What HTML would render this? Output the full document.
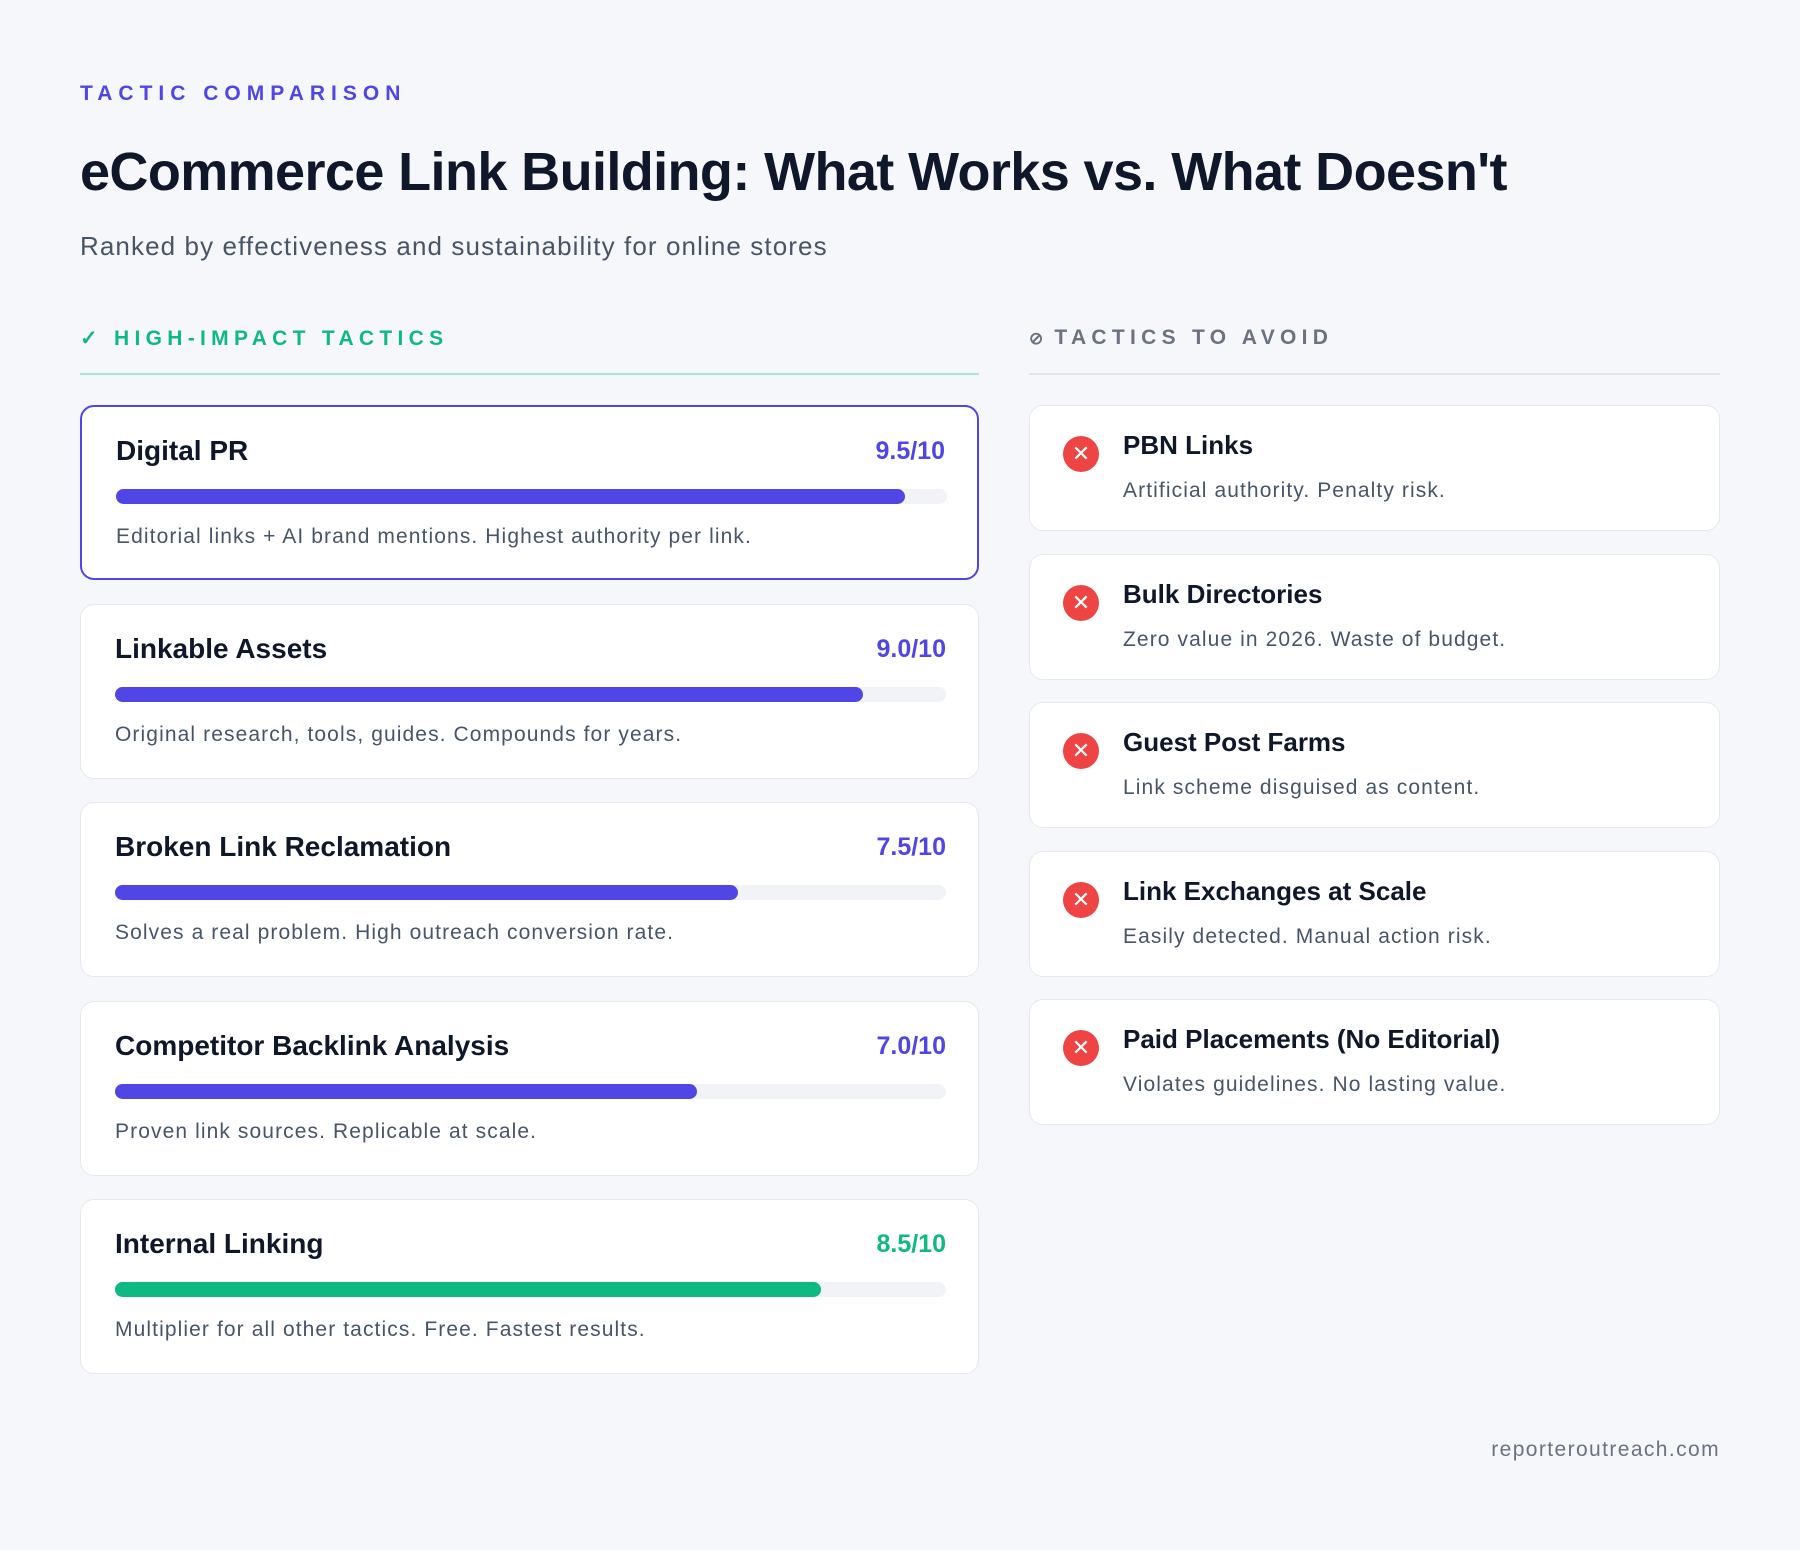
<!DOCTYPE html>
<html><head><meta charset="utf-8">
<style>
*{box-sizing:border-box;margin:0;padding:0}
body{width:1800px;height:1550px;background:#f6f7fb;font-family:"Liberation Sans",sans-serif;position:relative;overflow:hidden;color:#0f172a}
.abs{position:absolute}
.eyebrow{left:80px;top:82px;font-size:21px;font-weight:700;letter-spacing:6px;color:#4f46e5}
.title{left:80px;top:141px;font-size:54px;font-weight:700;letter-spacing:-0.6px;color:#0f172a;white-space:nowrap}
.sub{left:80px;top:231px;font-size:26px;color:#475569;letter-spacing:1.1px}
.colhead{top:326px;font-size:21px;font-weight:700;letter-spacing:5.3px}
.card{position:absolute;background:#fff;border:1px solid #e6e8ee;border-radius:14px}
.lt{position:absolute;left:34px;top:28px;font-size:28px;font-weight:700;color:#0f172a}
.sc{position:absolute;right:32px;top:30px;font-size:25px;font-weight:700}
.track{position:absolute;left:34px;top:82px;width:831px;height:15px;border-radius:8px;background:#f1f3f7}
.fill{height:15px;border-radius:8px}
.ld{position:absolute;left:34px;top:118px;font-size:21px;color:#475569;letter-spacing:1.1px}
.ic{position:absolute;left:33px;top:30px;width:36px;height:36px;border-radius:50%;background:#ef4444;color:#fff;font-size:22px;line-height:36px;text-align:center}
.rt{position:absolute;left:93px;top:24px;font-size:26px;font-weight:700}
.rd{position:absolute;left:93px;top:73px;font-size:21px;color:#475569;letter-spacing:1.1px}
</style></head><body>
<div class="abs eyebrow">TACTIC COMPARISON</div>
<div class="abs title">eCommerce Link Building: What Works vs. What Doesn't</div>
<div class="abs sub">Ranked by effectiveness and sustainability for online stores</div>
<div class="abs colhead" style="left:80px;color:#10b981">✓ HIGH-IMPACT TACTICS</div>
<div class="abs" style="left:80px;top:373px;width:899px;height:2px;background:#a7e9cf"></div>
<div class="abs colhead" style="left:1029px;color:#6b7280"><span style="font-size:17px;letter-spacing:0">⊘</span>&nbsp;TACTICS TO AVOID</div>
<div class="abs" style="left:1029px;top:373px;width:691px;height:2px;background:#e2e4ea"></div>
<div id="left"></div>
<div id="right"></div>
<div class="abs" style="right:80px;top:1438px;font-size:21px;color:#6b7280;letter-spacing:1.4px">reporteroutreach.com</div>
<script>
const tactics=["Digital PR","Linkable Assets","Broken Link Reclamation","Competitor Backlink Analysis","Internal Linking"];
const scores=[9.5,9.0,7.5,7.0,8.5];
const descs=["Editorial links + AI brand mentions. Highest authority per link.","Original research, tools, guides. Compounds for years.","Solves a real problem. High outreach conversion rate.","Proven link sources. Replicable at scale.","Multiplier for all other tactics. Free. Fastest results."];
const avoid=["PBN Links","Bulk Directories","Guest Post Farms","Link Exchanges at Scale","Paid Placements (No Editorial)"];
const avoidDescs=["Artificial authority. Penalty risk.","Zero value in 2026. Waste of budget.","Link scheme disguised as content.","Easily detected. Manual action risk.","Violates guidelines. No lasting value."];
const L=document.getElementById('left'),R=document.getElementById('right');
tactics.forEach((t,i)=>{
  const c=document.createElement('div');c.className='card';
  
  
  const col=i===4?'#10b981':'#4f46e5';
  c.style.cssText=`left:80px;top:${405+i*198.5}px;width:899px;height:175px;`+(i===0?'border:2px solid #4f46e5;':'');
  c.innerHTML=`<div class="lt">${t}</div><div class="sc" style="color:${col}">${scores[i].toFixed(1)}/10</div><div class="track"><div class="fill" style="width:${scores[i]/10*100}%;background:${col}"></div></div><div class="ld">${descs[i]}</div>`;
  c.querySelector('.fill');
  c.querySelector('.fill');
  L.appendChild(c);
});
avoid.forEach((t,i)=>{
  const c=document.createElement('div');c.className='card';
  
  
  c.style.cssText=`left:1029px;top:${405+i*148.5}px;width:691px;height:126px;`;
  c.innerHTML=`<div class="ic">✕</div><div class="rt">${t}</div><div class="rd">${avoidDescs[i]}</div>`;
  R.appendChild(c);
});
</script>
</body></html>
